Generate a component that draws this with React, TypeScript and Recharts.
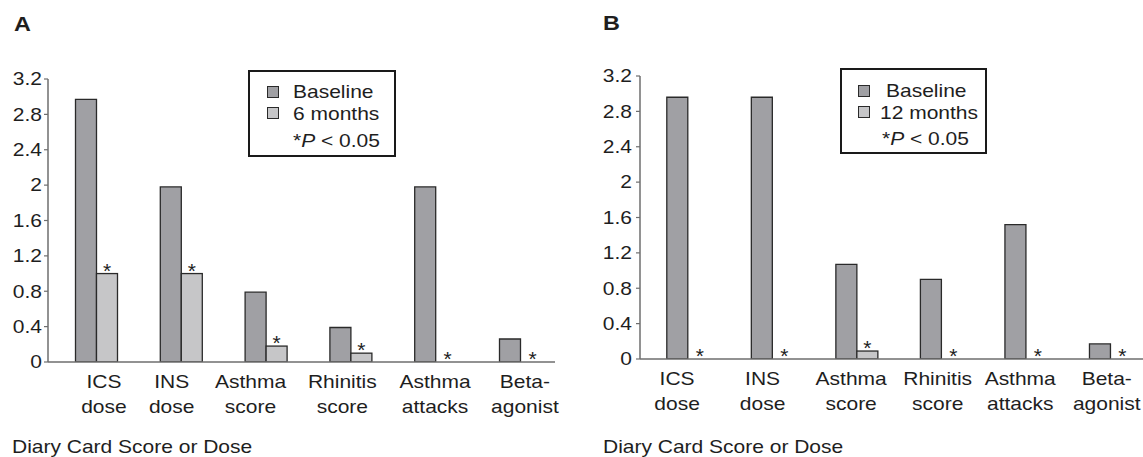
import React from 'react';
import { BarChart, Bar, XAxis, YAxis, Legend } from 'recharts';

// ---------- data ----------
const categories = ['ICS dose', 'INS dose', 'Asthma score', 'Rhinitis score', 'Asthma attacks', 'Beta-agonist'];
const categoryLines = [
  ['ICS', 'dose'],
  ['INS', 'dose'],
  ['Asthma', 'score'],
  ['Rhinitis', 'score'],
  ['Asthma', 'attacks'],
  ['Beta-', 'agonist'],
];
const baselineA = [2.97, 1.98, 0.79, 0.39, 1.98, 0.26];
const sixMonthsA = [1.0, 1.0, 0.18, 0.1, 0, 0];
const baselineB = [2.96, 2.96, 1.07, 0.9, 1.52, 0.17];
const twelveMonthsB = [0, 0, 0.09, 0, 0, 0];
const yTicks = [0, 0.4, 0.8, 1.2, 1.6, 2, 2.4, 2.8, 3.2];
const yTickLabels = ['0', '0.4', '0.8', '1.2', '1.6', '2', '2.4', '2.8', '3.2'];
const xAxisTitle = 'Diary Card Score or Dose';

const dataA = categories.map((c, i) => ({ name: c, baseline: baselineA[i], follow: sixMonthsA[i] }));
const dataB = categories.map((c, i) => ({ name: c, baseline: baselineB[i], follow: twelveMonthsB[i] }));

// ---------- style ----------
const FONT = '"Liberation Sans", Arial, Helvetica, sans-serif';
const SX = 1.2;
const FS = 17.5;
const TXT = '#1e1e1e';
const AXIS = '#6e6e6e';
const BASE_FILL = '#a0a0a4';
const FOLLOW_FILL = '#c6c6c8';
const BAR_STROKE = '#2a2a2a';

const labelShiftA = [7, -10, -16, -9, -1, 4];
const labelShiftB = [-11, -10, -6, -4, -6, -4];

function makeXTick(shift: number[]) {
  return (props: any) => {
    const { x, y, index } = props;
    const lines = categoryLines[index] || [];
    return (
      <g transform={`translate(${x + (shift[index] || 0)},${y})`}>
        <text transform={`scale(${SX},1)`} textAnchor="middle" fontSize={FS} fill={TXT} fontFamily={FONT}>
          <tspan x={0} y={26}>{lines[0]}</tspan>
          <tspan x={0} y={51}>{lines[1]}</tspan>
        </text>
      </g>
    );
  };
}

const YTick = (props: any) => {
  const { x, y, payload } = props;
  const i = yTicks.indexOf(payload.value);
  return (
    <g transform={`translate(${x},${y})`}>
      <text transform={`scale(${SX},1)`} textAnchor="end" dy="0.36em" fontSize={FS} fill={TXT} fontFamily={FONT}>
        {yTickLabels[i]}
      </text>
    </g>
  );
};

// follow-up bar: draws the rectangle (if any) plus the significance star above it
const FollowShape = (props: any) => {
  const { x, y, width, height } = props;
  const h = Number(height) || 0;
  const top = h >= 0 ? y : y + h;
  return (
    <g>
      {Math.abs(h) > 0.01 && (
        <rect x={x} y={top} width={width} height={Math.abs(h)} fill={FOLLOW_FILL} stroke={BAR_STROKE} strokeWidth={1.3} />
      )}
      <text x={x + width / 2 + (h === 0 ? 1.5 : 0)} y={top + 4} textAnchor="middle" fontSize={21} fill={TXT} fontFamily={FONT}>
        *
      </text>
    </g>
  );
};

type LegendCfg = {
  w: number;
  h: number;
  sw: [number, number, number];
  tx: [number, number, number];
  ty: [number, number, number];
  followLabel: string;
};

function makeLegend(cfg: LegendCfg) {
  return () => (
    <svg width={cfg.w} height={cfg.h} style={{ display: 'block' }}>
      <rect x={1} y={1} width={cfg.w - 2} height={cfg.h - 2} fill="#fff" stroke="#1a1a1a" strokeWidth={2} />
      <rect x={cfg.sw[0] + 0.5} y={cfg.sw[1] + 0.5} width={11} height={11} fill={BASE_FILL} stroke={BAR_STROKE} strokeWidth={1} />
      <rect x={cfg.sw[0] + 0.5} y={cfg.sw[2] + 0.5} width={11} height={11} fill={FOLLOW_FILL} stroke={BAR_STROKE} strokeWidth={1} />
      <g fontFamily={FONT} fontSize={FS} fill={TXT}>
        <text transform={`translate(${cfg.tx[0]},${cfg.ty[0]}) scale(${SX},1)`}>Baseline</text>
        <text transform={`translate(${cfg.tx[1]},${cfg.ty[1]}) scale(${SX},1)`}>{cfg.followLabel}</text>
        <text transform={`translate(${cfg.tx[2]},${cfg.ty[2]}) scale(${SX},1)`}>
          *<tspan fontStyle="italic">P</tspan> {'<'} 0.05
        </text>
      </g>
    </svg>
  );
}

type PanelProps = {
  data: any[];
  width: number;
  top: number;
  plotBottom: number;
  right: number;
  padLeft: number;
  padRight: number;
  yTickMargin: number;
  shift: number[];
  title: string;
  titleX: number;
  titleY: number;
  diaryX: number;
  legendPos: { left: number; top: number };
  legendCfg: LegendCfg;
};

function Panel(p: PanelProps) {
  const H = 457;
  const xH = H - p.plotBottom;
  const XTick = makeXTick(p.shift);
  const LegendContent = makeLegend(p.legendCfg);
  const extraText = () => (
    <g fontFamily={FONT} fill={TXT}>
      <text transform={`translate(${p.diaryX},453) scale(${SX},1)`} fontSize={FS}>
        {xAxisTitle}
      </text>
      <text transform={`translate(${p.titleX},${p.titleY}) scale(${SX},1)`} fontSize={19.5} fontWeight="bold">
        {p.title}
      </text>
    </g>
  );
  return (
    <BarChart
      width={p.width}
      height={H}
      data={p.data}
      margin={{ top: p.top, right: p.right, bottom: 0, left: 0 }}
      barGap={0}
      barSize={21}
    >
      <XAxis
        dataKey="name"
        type="category"
        interval={0}
        height={xH}
        tickLine={false}
        tickSize={0}
        tickMargin={0}
        tick={XTick}
        axisLine={{ stroke: AXIS, strokeWidth: 1.5 }}
        padding={{ left: p.padLeft, right: p.padRight }}
        label={extraText}
      />
      <YAxis
        width={48}
        domain={[0, 3.2]}
        ticks={yTicks}
        interval={0}
        allowDataOverflow
        tickSize={4}
        tickMargin={p.yTickMargin}
        tick={YTick}
        axisLine={{ stroke: AXIS, strokeWidth: 1.5 }}
        tickLine={{ stroke: AXIS, strokeWidth: 1.2 }}
      />
      <Legend
        layout="vertical"
        align="center"
        verticalAlign="middle"
        content={LegendContent}
        wrapperStyle={{
          left: p.legendPos.left,
          top: p.legendPos.top,
          width: p.legendCfg.w,
          height: p.legendCfg.h,
        }}
      />
      <Bar dataKey="baseline" fill={BASE_FILL} stroke={BAR_STROKE} strokeWidth={1.3} isAnimationActive={false} />
      <Bar dataKey="follow" fill={FOLLOW_FILL} stroke={BAR_STROKE} strokeWidth={1.3} isAnimationActive={false} shape={FollowShape} />
    </BarChart>
  );
}

export default function App() {
  return (
    <div
      style={{
        position: 'absolute',
        left: 0,
        top: 0,
        width: 1143,
        height: 457,
        overflow: 'hidden',
        background: '#fff',
      }}
    >
      <div style={{ position: 'absolute', left: 0, top: 0 }}>
        <Panel
          data={dataA}
          width={564}
          top={79}
          plotBottom={362}
          right={9}
          padLeft={6.5}
          padRight={-8.3}
          yTickMargin={2}
          shift={labelShiftA}
          title="A"
          titleX={14}
          titleY={31}
          diaryX={12}
          legendPos={{ left: 248, top: 70 }}
          legendCfg={{
            w: 148,
            h: 87,
            sw: [19, 16, 37],
            tx: [45, 45, 45],
            ty: [28, 50, 77],
            followLabel: '6 months',
          }}
        />
      </div>
      <div style={{ position: 'absolute', left: 592, top: 0 }}>
        <Panel
          data={dataB}
          width={561}
          top={76}
          plotBottom={359}
          right={0}
          padLeft={5.8}
          padRight={0}
          yTickMargin={4}
          shift={labelShiftB}
          title="B"
          titleX={11}
          titleY={30}
          diaryX={11}
          legendPos={{ left: 248, top: 68 }}
          legendCfg={{
            w: 147,
            h: 86,
            sw: [18, 17, 38],
            tx: [46, 40, 42],
            ty: [29, 51, 77],
            followLabel: '12 months',
          }}
        />
      </div>
    </div>
  );
}
